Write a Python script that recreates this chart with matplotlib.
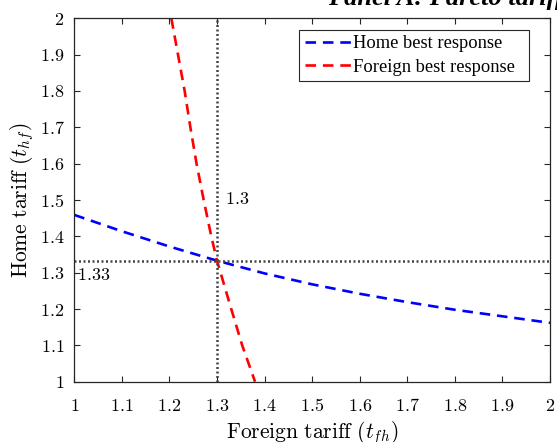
import matplotlib
matplotlib.use('Agg')
import matplotlib.pyplot as plt

# Home best response t_hf as a function of foreign tariff t_fh
home_x = [1.0, 1.1, 1.2, 1.3, 1.4, 1.5, 1.6, 1.7, 1.8, 1.9, 2.0]
home_y = [1.459, 1.414, 1.372, 1.333, 1.298, 1.268, 1.242, 1.219, 1.198, 1.180, 1.162]

# Foreign best response t_fh (x) against t_hf (y)
foreign_y = [2.0, 1.9, 1.8, 1.7, 1.6, 1.5, 1.4, 1.333, 1.2, 1.1, 1.0]
foreign_x = [1.204, 1.218, 1.232, 1.244, 1.257, 1.272, 1.288, 1.300, 1.330, 1.353, 1.380]

nash_x = 1.3
nash_y = 1.333

xticks = [1.0, 1.1, 1.2, 1.3, 1.4, 1.5, 1.6, 1.7, 1.8, 1.9, 2.0]
yticks = [1.0, 1.1, 1.2, 1.3, 1.4, 1.5, 1.6, 1.7, 1.8, 1.9, 2.0]

plt.rcParams['mathtext.fontset'] = 'cm'
plt.rcParams['font.family'] = 'Liberation Serif'

fig = plt.figure(figsize=(5.57, 4.42), dpi=100)
ax = fig.add_axes([0.1334, 0.1364, 0.854, 0.8222])

ax.plot(home_x, home_y, color='#0000ff', linewidth=1.9, dashes=(4, 2.6),
        label='Home best response')
ax.plot(foreign_x, foreign_y, color='#ff0000', linewidth=1.9, dashes=(4, 2.6),
        label='Foreign best response')

# dotted guides through the intersection
ax.axvline(nash_x, color='#444444', linewidth=1.8, linestyle=(0, (0.8, 1.0)))
ax.axhline(nash_y, color='#444444', linewidth=1.8, linestyle=(0, (0.8, 1.0)))

ax.text(1.316, 1.502, r'$1.3$', fontsize=13, va='center', ha='left')
ax.text(1.006, 1.292, r'$1.33$', fontsize=13, va='center', ha='left')

ax.set_xlim(1, 2)
ax.set_ylim(1, 2)
ax.set_xticks(xticks)
ax.set_yticks(yticks)
ax.set_xticklabels([r'$%g$' % v for v in xticks], fontsize=13)
ax.set_yticklabels([r'$%g$' % v for v in yticks], fontsize=13)
ax.tick_params(direction='in', length=4, top=True, right=True,
               color='#262626', width=0.8, pad=7)
ax.tick_params(axis='x', pad=12)
for s in ax.spines.values():
    s.set_color('#262626')
    s.set_linewidth(0.9)

ax.set_xlabel(r'$\mathrm{Foreign\ tariff}\ (t_{fh})$', fontsize=15.5, labelpad=3)
ax.set_ylabel(r'$\mathrm{Home\ tariff}\ (t_{hf})$', fontsize=15.5, labelpad=3)

leg = ax.legend(loc='upper left', bbox_to_anchor=(0.4724, 0.768, 0.4836, 0.2),
                mode='expand', borderaxespad=0,
                fontsize=13.3, fancybox=False, framealpha=1, edgecolor='#262626',
                handlelength=2.5, handletextpad=0.1, borderpad=0.3, labelspacing=0.35)
leg.get_frame().set_linewidth(0.8)

# title sits partly above the top edge, as in the source figure
fig.text(0.589, 1 - 5.0 / 442, 'Panel A: Pareto tariffs', fontsize=19,
         fontweight='bold', fontstyle='italic', va='baseline', ha='left')

plt.savefig('out.png', dpi=100)
plt.close()
